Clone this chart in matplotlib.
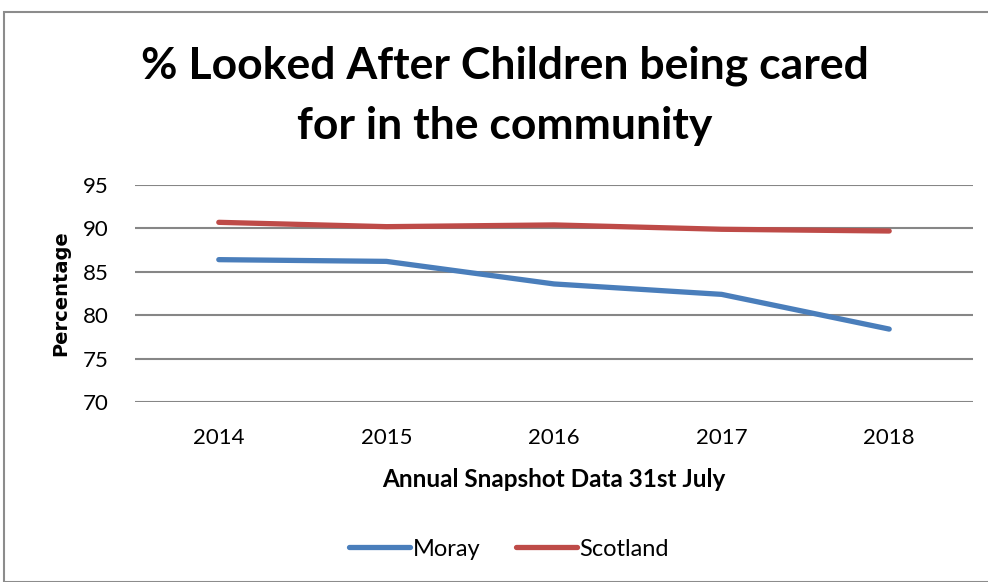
import matplotlib
matplotlib.use("Agg")
import matplotlib.pyplot as plt
from matplotlib.patches import Rectangle

years = ["2014", "2015", "2016", "2017", "2018"]
moray = [86.4, 86.2, 83.6, 82.4, 78.4]
scotland = [90.7, 90.2, 90.4, 89.9, 89.7]
yticks = [70, 75, 80, 85, 90, 95]

plt.rcParams['font.family'] = ['Lato', 'DejaVu Sans']

W, H = 988, 582
fig = plt.figure(figsize=(W/100, H/100), dpi=100)
fig.patches.append(Rectangle((4/W, 0), 1.2, (H-12)/H, transform=fig.transFigure,
                             fill=False, edgecolor='#8c8c8c', linewidth=1.5))

ax = fig.add_axes([135/W, 1-402/H, (973-135)/W, (402-185)/H])
x = list(range(len(years)))
ax.plot(x, moray, color='#4A7EBB', lw=3.8, solid_capstyle='round', label='Moray')
ax.plot(x, scotland, color='#BE4B48', lw=3.8, solid_capstyle='round', label='Scotland')
ax.set_xlim(-0.5, 4.5)
ax.set_ylim(70, 95)
ax.set_yticks(yticks)
ax.set_xticks(x)
ax.set_xticklabels(years)
ax.grid(axis='y', color='#868686', lw=1.5)
ax.set_axisbelow(True)
for s in ax.spines.values():
    s.set_visible(False)
ax.tick_params(length=0, labelsize=16, colors='black')
ax.tick_params(axis='y', pad=19)
ax.tick_params(axis='x', pad=19)
ax.set_ylabel('Percentage', fontsize=14, fontweight='bold', labelpad=9,
              family=['DejaVu Sans'])
ax.set_xlabel('Annual Snapshot Data 31st July', fontsize=17.5, fontweight='bold', labelpad=14)

fig.text(505/W, 1-66/H, '% Looked After Children being cared', ha='center', va='center',
         fontsize=32, fontweight='bold')
fig.text(505/W, 1-126/H, 'for in the community', ha='center', va='center',
         fontsize=32, fontweight='bold')

ax.legend(loc='center', bbox_to_anchor=(509/W, 1-549/H), bbox_transform=fig.transFigure,
          ncol=2, frameon=False, fontsize=17, handlelength=2.6, handletextpad=0.1,
          columnspacing=1.5)

fig.savefig('out.png', dpi=100)
